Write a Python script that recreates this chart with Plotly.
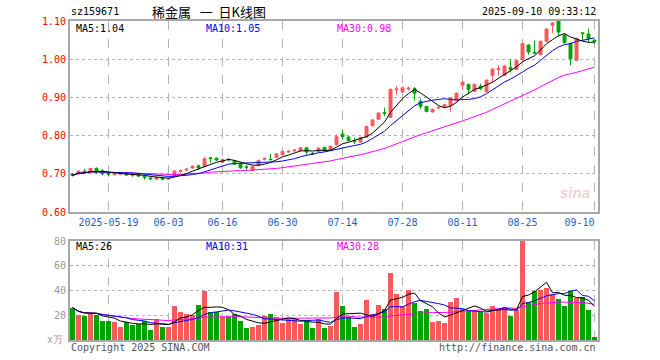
import plotly.graph_objects as go
import pandas as pd

dates = ["05-09", "05-12", "05-13", "05-14", "05-15", "05-16",
         "05-19", "05-20", "05-21", "05-22", "05-23",
         "05-26", "05-27", "05-28", "05-29", "05-30",
         "06-03", "06-04", "06-05", "06-06",
         "06-09", "06-10", "06-11", "06-12", "06-13",
         "06-16", "06-17", "06-18", "06-19", "06-20",
         "06-23", "06-24", "06-25", "06-26", "06-27",
         "06-30", "07-01", "07-02", "07-03", "07-04",
         "07-07", "07-08", "07-09", "07-10", "07-11",
         "07-14", "07-15", "07-16", "07-17", "07-18",
         "07-21", "07-22", "07-23", "07-24", "07-25",
         "07-28", "07-29", "07-30", "07-31", "08-01",
         "08-04", "08-05", "08-06", "08-07", "08-08",
         "08-11", "08-12", "08-13", "08-14", "08-15",
         "08-18", "08-19", "08-20", "08-21", "08-22",
         "08-25", "08-26", "08-27", "08-28", "08-29",
         "09-01", "09-02", "09-03", "09-04", "09-05",
         "09-08", "09-09", "09-10"]

opens = [0.699, 0.700, 0.707, 0.704, 0.714, 0.708, 0.701, 0.698, 0.699, 0.702,
         0.699, 0.698, 0.693, 0.689, 0.686, 0.688, 0.686, 0.694, 0.706, 0.710,
         0.715, 0.721, 0.719, 0.742, 0.741, 0.730, 0.738, 0.734, 0.726, 0.718,
         0.709, 0.722, 0.738, 0.738, 0.743, 0.751, 0.757, 0.760, 0.761, 0.768,
         0.753, 0.758, 0.769, 0.763, 0.776, 0.804, 0.796, 0.786, 0.783, 0.796,
         0.826, 0.843, 0.860, 0.848, 0.920, 0.914, 0.922, 0.923, 0.890, 0.876,
         0.862, 0.872, 0.875, 0.878, 0.891, 0.932, 0.934, 0.916, 0.929, 0.915,
         0.958, 0.973, 0.958, 0.978, 0.973, 0.999, 1.037, 1.018, 1.012, 1.047,
         1.089, 1.100, 1.063, 1.041, 0.997, 1.069, 1.066, 1.050]
highs = [0.702, 0.708, 0.713, 0.715, 0.717, 0.712, 0.704, 0.703, 0.703, 0.703,
         0.703, 0.700, 0.696, 0.692, 0.691, 0.691, 0.690, 0.709, 0.712, 0.716,
         0.722, 0.724, 0.745, 0.742, 0.743, 0.740, 0.741, 0.736, 0.728, 0.724,
         0.721, 0.737, 0.743, 0.752, 0.754, 0.760, 0.762, 0.765, 0.770, 0.769,
         0.757, 0.770, 0.771, 0.774, 0.803, 0.815, 0.799, 0.794, 0.797, 0.826,
         0.843, 0.861, 0.873, 0.923, 0.930, 0.928, 0.928, 0.927, 0.897, 0.877,
         0.871, 0.877, 0.883, 0.901, 0.913, 0.941, 0.936, 0.936, 0.936, 0.947,
         0.976, 0.985, 0.984, 1.000, 0.998, 1.043, 1.039, 1.049, 1.049, 1.081,
         1.096, 1.100, 1.067, 1.044, 1.056, 1.069, 1.080, 1.051]
lows = [0.693, 0.699, 0.700, 0.703, 0.700, 0.696, 0.693, 0.695, 0.697, 0.694,
        0.692, 0.692, 0.685, 0.684, 0.685, 0.683, 0.684, 0.692, 0.703, 0.707,
        0.713, 0.710, 0.717, 0.729, 0.734, 0.728, 0.733, 0.723, 0.713, 0.710,
        0.707, 0.720, 0.735, 0.736, 0.742, 0.749, 0.755, 0.758, 0.759, 0.750,
        0.749, 0.757, 0.758, 0.762, 0.774, 0.789, 0.785, 0.778, 0.781, 0.794,
        0.824, 0.842, 0.851, 0.846, 0.907, 0.912, 0.918, 0.892, 0.870, 0.861,
        0.860, 0.870, 0.873, 0.862, 0.889, 0.919, 0.908, 0.914, 0.919, 0.913,
        0.940, 0.957, 0.956, 0.965, 0.971, 0.997, 1.012, 1.014, 1.010, 1.045,
        1.068, 1.060, 1.041, 0.984, 0.995, 1.050, 1.045, 1.040]
closes = [0.696, 0.707, 0.704, 0.714, 0.705, 0.700, 0.699, 0.700, 0.701, 0.697,
          0.697, 0.694, 0.691, 0.687, 0.690, 0.686, 0.688, 0.707, 0.708, 0.712,
          0.720, 0.716, 0.739, 0.740, 0.736, 0.737, 0.737, 0.725, 0.716, 0.717,
          0.719, 0.735, 0.740, 0.737, 0.752, 0.758, 0.759, 0.762, 0.768, 0.757,
          0.752, 0.767, 0.760, 0.772, 0.797, 0.797, 0.787, 0.785, 0.795, 0.824,
          0.841, 0.859, 0.858, 0.921, 0.922, 0.925, 0.924, 0.911, 0.877, 0.863,
          0.869, 0.874, 0.881, 0.899, 0.911, 0.940, 0.921, 0.934, 0.923, 0.945,
          0.974, 0.975, 0.982, 0.973, 0.996, 1.041, 1.019, 1.016, 1.047, 1.079,
          1.095, 1.071, 1.043, 1.002, 1.054, 1.067, 1.054, 1.046]
volumes = [26.1, 20.2, 19.4, 22.1, 20.2, 15.6, 15.6, 14.5, 10.8, 14.5,
           12.1, 12.7, 15.6, 8.1, 16.7, 10.8, 10.8, 27.5, 22.9, 21.0,
           20.2, 28.3, 39.6, 22.9, 22.9, 18.3, 18.3, 21.0, 15.6, 10.0,
           10.8, 12.1, 19.4, 21.0, 18.3, 14.0, 16.7, 16.7, 12.9, 15.6,
           10.0, 16.7, 10.0, 11.6, 39.1, 27.5, 18.3, 10.8, 12.9, 32.3,
           21.0, 28.3, 25.1, 54.4, 37.2, 27.5, 40.4, 30.2, 23.7, 25.1,
           14.8, 15.6, 14.0, 31.0, 34.2, 24.8, 23.4, 24.2, 22.4, 21.6,
           27.5, 24.8, 26.9, 19.7, 24.2, 80.0, 31.0, 39.6, 40.4, 42.3,
           37.2, 33.1, 27.7, 39.6, 34.2, 35.0, 24.2, 2.7]

date_ticks = ["05-19", "06-03", "06-16", "06-30", "07-14", "07-28", "08-11", "08-25", "09-10"]
date_tick_text = ["2025-05-19", "06-03", "06-16", "06-30", "07-14", "07-28", "08-11", "08-25",
                  "09-10&nbsp;&nbsp;&nbsp;&nbsp;&nbsp;"]
price_ticks = [0.60, 0.70, 0.80, 0.90, 1.00, 1.10]
vol_ticks = [20, 40, 60, 80]

RED = "#F65A5A"
GREEN = "#00A400"
MONO = "DejaVu Sans Mono"

idx = list(range(len(dates)))
tickpos = [dates.index(d) for d in date_ticks]
cs = pd.Series(closes)
vs = pd.Series(volumes)
vol_colors = [RED if c >= o else GREEN for o, c in zip(opens, closes)]

fig = go.Figure()
fig.add_trace(go.Candlestick(
    x=idx, open=opens, high=highs, low=lows, close=closes,
    increasing=dict(line=dict(color=RED, width=1), fillcolor=RED),
    decreasing=dict(line=dict(color=GREEN, width=1), fillcolor=GREEN),
    whiskerwidth=0, xaxis="x", yaxis="y", showlegend=False, hoverinfo="skip"))
for n, col in [(30, "#FF00FF"), (10, "#0000FF"), (5, "#000000")]:
    fig.add_trace(go.Scatter(x=idx, y=cs.rolling(n, min_periods=1).mean(), mode="lines",
                             line=dict(color=col, width=1), xaxis="x", yaxis="y",
                             showlegend=False, hoverinfo="skip"))
fig.add_trace(go.Bar(x=idx, y=volumes, marker=dict(color=vol_colors, line=dict(width=0)),
                     width=0.83, xaxis="x2", yaxis="y2", showlegend=False, hoverinfo="skip"))
for n, col in [(30, "#FF00FF"), (10, "#0000FF"), (5, "#000000")]:
    fig.add_trace(go.Scatter(x=idx, y=vs.rolling(n, min_periods=1).mean(), mode="lines",
                             line=dict(color=col, width=1), xaxis="x2", yaxis="y2",
                             showlegend=False, hoverinfo="skip"))

H_TOP, H_BOT = 21, 20
PH = 360 - H_TOP - H_BOT
def py(Y):
    return (360 - H_BOT - Y) / PH
def px(X):
    return (X - 70) / 528

xr = [-0.42, len(dates) - 0.42]
axis_common = dict(showline=True, mirror=True, linecolor="#A8A8A8", linewidth=2,
                   zeroline=False, showgrid=True, gridcolor="#B4B4B4", gridwidth=1)
fig.update_layout(
    width=660, height=360, margin=dict(l=70, r=62, t=H_TOP, b=H_BOT),
    paper_bgcolor="white", plot_bgcolor="white", showlegend=False,
    bargap=0, hovermode=False,
    xaxis=dict(domain=[0, 1], range=xr, anchor="y", tickmode="array",
               tickvals=tickpos, ticktext=date_tick_text, griddash="dash",
               tickfont=dict(family=MONO, size=10, color="#1F5FC8"),
               rangeslider=dict(visible=False), ticks="", **axis_common),
    yaxis=dict(domain=[py(212), 1], range=[0.60, 1.10], anchor="x", tickmode="array",
               tickvals=price_ticks, ticktext=["%.2f" % v for v in price_ticks],
               griddash="dot", tickfont=dict(family=MONO, size=10, color="#FF0000"),
               ticks="", **axis_common),
    xaxis2=dict(domain=[0, 1], range=xr, anchor="y2", matches="x", tickmode="array",
                tickvals=tickpos, showticklabels=False, griddash="dash", ticks="",
                **axis_common),
    yaxis2=dict(domain=[0, py(241)], range=[0, 80], anchor="x2", tickmode="array",
                tickvals=vol_ticks, ticktext=[str(v) for v in vol_ticks], griddash="dot",
                tickfont=dict(family=MONO, size=10, color="#999999"), ticks="",
                **axis_common),
)

def ann(text, X, Y, color="#000000", anchor="left", size=10, family=MONO):
    fig.add_annotation(text=text, x=px(X), y=py(Y), xref="paper", yref="paper",
                       showarrow=False, xanchor=anchor, yanchor="middle",
                       font=dict(family=family, size=size, color=color))

ann("sz159671", 69, 12)
ann("稀金属&nbsp;&nbsp;&nbsp;一&nbsp;&nbsp;日K线图", 150, 12, size=13, family="Noto Sans CJK SC")
ann("2025-09-10 09:33:12", 598, 12, anchor="right")
ann("MA5:1.04", 74, 28)
ann("MA10:1.05", 204, 28, color="#0000FF")
ann("MA30:0.98", 335, 28, color="#FF00FF")
ann("MA5:26", 74, 247)
ann("MA10:31", 204, 247, color="#0000FF")
ann("MA30:28", 335, 247, color="#FF00FF")
ann("x万", 65, 339, color="#999999", anchor="right")
ann("Copyright 2025 SINA.COM", 69, 348, color="#555555")
ann("http://finance.sina.com.cn", 598, 348, color="#555555", anchor="right")
ann("<i><b>sina</b></i>", 575, 192, color="rgba(215,150,150,0.45)", anchor="center",
    size=15, family="Liberation Sans")

fig.write_html("out.html", config={"displayModeBar": False},
               post_script="document.body.style.margin='0';")
